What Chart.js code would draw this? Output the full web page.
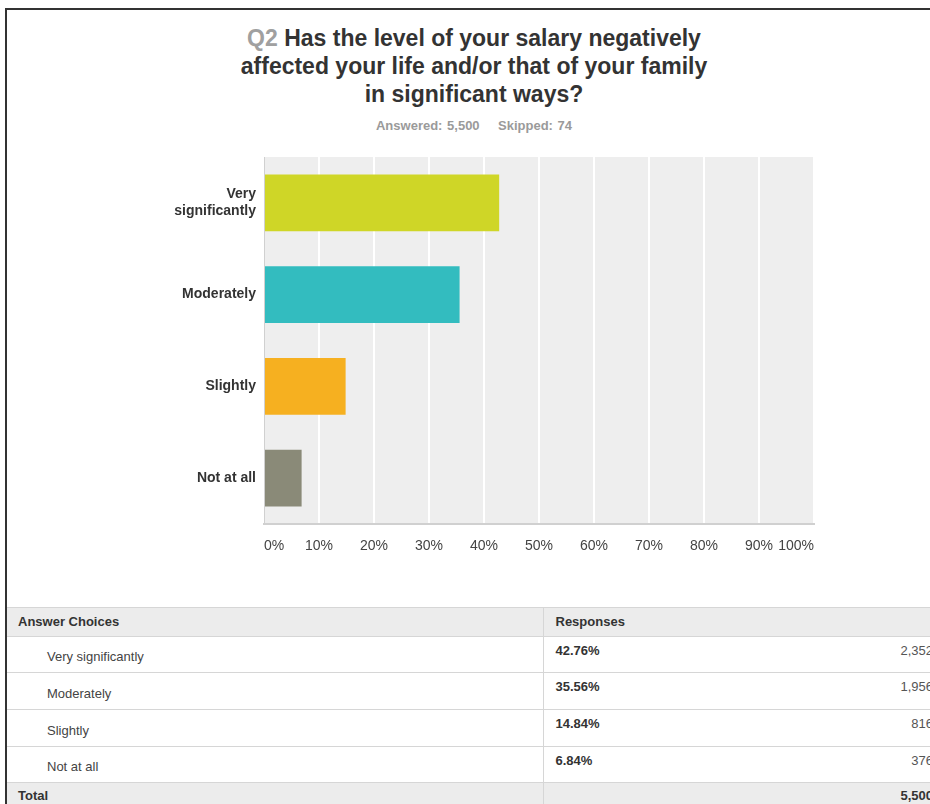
<!DOCTYPE html>
<html>
<head>
<meta charset="utf-8">
<script src="https://cdn.jsdelivr.net/npm/chart.js@4.4.1/dist/chart.umd.min.js"></script>
<style>
  html, body { margin: 0; padding: 0; background: #fff; width: 930px; height: 804px; overflow: hidden; }
  .frame { position: absolute; left: 5px; top: 8px; width: 940px; height: 820px;
           border-top: 2px solid #333; border-left: 2px solid #333; }
  .title { position: absolute; left: 0; top: 24px; width: 948px; text-align: center;
           font-family: "Liberation Sans Narrow", "Arial Narrow", Arial, sans-serif; font-weight: bold;
           font-size: 23px; line-height: 28px; color: #333; }
  .title .q { color: #a0a0a0; }
  .sub { position: absolute; left: 0; top: 118px; width: 948px; text-align: center;
         font-family: "Liberation Sans Narrow", "Arial Narrow", Arial, sans-serif; font-weight: bold;
         font-size: 13px; color: #9a9a9a; word-spacing: 1px; }
  .chartbox { position: absolute; left: 0; top: 140px; width: 930px; height: 430px; }
  table { position: absolute; left: 7px; top: 607px; width: 940px; border-collapse: collapse;
          table-layout: fixed;
          font-family: "Liberation Sans", Arial, sans-serif; font-size: 13px; color: #444; }
  td { box-sizing: border-box; border-top: 1px solid #d6d6d6; border-bottom: 1px solid #d6d6d6;
       padding: 0; line-height: 16px; overflow: hidden; white-space: nowrap; }
  td.c1 { border-right: 1px solid #d6d6d6; }
  tr.head td { background: #ececec; height: 29px; font-weight: bold; color: #333; }
  tr.head td.c1 { padding-left: 11px; }
  tr.head td.c2 { padding-left: 12px; }
  tr.row td { height: 37px; }
  tr.row.short td { height: 36px; }
  tr.row td.c1 { padding-left: 40px; padding-top: 5px; }
  tr.row td.c2 { vertical-align: top; padding: 6px 0 0 12px; font-weight: bold; color: #333; }
  tr.row td.c3 { vertical-align: top; padding: 6px 14px 0 0; text-align: right; color: #555; }
  tr.total td { background: #ececec; height: 28px; font-weight: bold; color: #333; vertical-align: top; padding-top: 5px; }
  tr.total td.c1 { padding-left: 11px; }
  tr.total td.c3 { text-align: right; padding-right: 14px; }
</style>
</head>
<body>
<div class="frame"></div>
<div class="title"><span class="q">Q2</span> Has the level of your salary negatively<br>affected your life and/or that of your family<br>in significant ways?</div>
<div class="sub">Answered: 5,500 &nbsp;&nbsp; Skipped: 74</div>
<div class="chartbox"><canvas id="chart" width="930" height="430"></canvas></div>
<table id="tbl"><colgroup><col style="width:536px"><col style="width:200px"><col style="width:204px"></colgroup><tbody id="tbody"></tbody></table>
<script>
// Survey answers, shares (%) and response counts
const categories = ["Very significantly", "Moderately", "Slightly", "Not at all"];
const axisLabels = [["Very", "significantly"], "Moderately", "Slightly", "Not at all"];
const percents = [42.76, 35.56, 14.84, 6.84];
const counts = [2352, 1956, 816, 376];
const totalAnswered = 5500;
const barColors = ["#cfd627", "#33bcbf", "#f6b020", "#8a8a78"];

const narrow = '"Liberation Sans Narrow", "Arial Narrow", Arial, sans-serif';

// Light grey plot background behind the bars
const plotBackground = {
  id: "plotBackground",
  beforeDraw(chart) {
    const { ctx, chartArea: a } = chart;
    ctx.save();
    ctx.fillStyle = "#eeeeee";
    ctx.fillRect(a.left, a.top, a.right - a.left, a.bottom - a.top);
    ctx.restore();
  }
};

new Chart(document.getElementById("chart"), {
  type: "bar",
  data: {
    labels: axisLabels,
    datasets: [{
      data: percents,
      backgroundColor: barColors,
      borderWidth: 0,
      categoryPercentage: 1,
      barPercentage: 0.62
    }]
  },
  options: {
    indexAxis: "y",
    responsive: false,
    animation: false,
    layout: { padding: { top: 17, right: 116, left: 0, bottom: 0 } },
    plugins: { legend: { display: false }, tooltip: { enabled: false } },
    scales: {
      x: {
        min: 0, max: 100,
        grid: { color: "#ffffff", lineWidth: 2, drawTicks: false },
        border: { color: "#d0d0d0", width: 2 },
        ticks: {
          stepSize: 10, align: "inner", padding: 14,
          color: "#444", font: { family: narrow, size: 14 },
          callback: v => v + "%"
        },
        afterFit(s) { s.height = 46; }
      },
      y: {
        grid: { display: false, drawTicks: false },
        border: { color: "#d0d0d0", width: 1 },
        ticks: { padding: 8, color: "#333", font: { family: narrow, size: 14, weight: "bold" } },
        afterFit(s) { s.width = 264; }
      }
    }
  },
  plugins: [plotBackground]
});

// Summary table below the chart
const fmt = n => n.toLocaleString("en-US");
let html = '<tr class="head"><td class="c1">Answer Choices</td><td class="c2">Responses</td><td class="c3"></td></tr>';
categories.forEach((c, i) => {
  const cls = (i === 0 || i === 3) ? "row short" : "row";
  html += '<tr class="' + cls + '"><td class="c1">' + c + '</td><td class="c2">' + percents[i].toFixed(2) +
          '%</td><td class="c3">' + fmt(counts[i]) + '</td></tr>';
});
html += '<tr class="total"><td class="c1">Total</td><td class="c2"></td><td class="c3">' + fmt(totalAnswered) + '</td></tr>';
document.getElementById("tbody").innerHTML = html;
</script>
</body>
</html>
